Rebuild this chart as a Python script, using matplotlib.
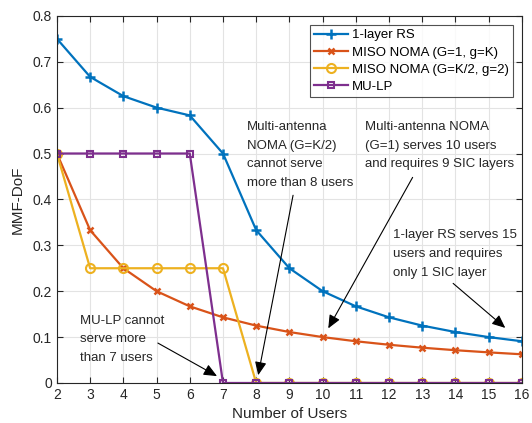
import matplotlib
matplotlib.use("Agg")
import matplotlib.pyplot as plt
import numpy as np

plt.rcParams['font.family'] = ['Liberation Sans', 'DejaVu Sans']

users = [2, 3, 4, 5, 6, 7, 8, 9, 10, 11, 12, 13, 14, 15, 16]
rs_1layer = [0.75, 0.667, 0.625, 0.6, 0.583, 0.5, 0.333, 0.25, 0.2, 0.167,
             0.143, 0.125, 0.111, 0.1, 0.0909]
noma_g1 = [0.5, 0.333, 0.25, 0.2, 0.167, 0.143, 0.125, 0.111, 0.1, 0.0909,
           0.0833, 0.0769, 0.0714, 0.0667, 0.0625]
noma_gk2 = [0.5, 0.25, 0.25, 0.25, 0.25, 0.25, 0, 0, 0, 0, 0, 0, 0, 0, 0]
mulp = [0.5, 0.5, 0.5, 0.5, 0.5, 0, 0, 0, 0, 0, 0, 0, 0, 0, 0]

labels = ['1-layer RS', 'MISO NOMA (G=1, g=K)', 'MISO NOMA (G=K/2, g=2)', 'MU-LP']
colors = ['#0072BD', '#D95319', '#EDB120', '#7E2F8E']

fig = plt.figure(figsize=(5.32, 4.23), dpi=100)
ax = fig.add_axes([0.107, 0.0946, 0.874, 0.868])

ax.plot(users, rs_1layer, color=colors[0], lw=1.6, marker='+', ms=7, mew=1.8, label=labels[0])
ax.plot(users, noma_g1, color=colors[1], lw=1.6, marker='x', ms=5, mew=1.8, label=labels[1])
ax.plot(users, noma_gk2, color=colors[2], lw=1.6, marker='o', ms=6.5, mew=1.5,
        mfc='none', label=labels[2])
ax.plot(users, mulp, color=colors[3], lw=1.6, marker='s', ms=5, mew=1.5,
        mfc='none', label=labels[3])

ax.set_xlim(2, 16)
ax.set_ylim(0, 0.8)
ax.set_xticks(np.arange(2, 17, 1))
ax.set_yticks(np.arange(0, 0.81, 0.1))
ax.set_yticklabels(['0', '0.1', '0.2', '0.3', '0.4', '0.5', '0.6', '0.7', '0.8'])
ax.grid(True, color='#e3e3e3', lw=0.8)
ax.set_axisbelow(True)
ax.tick_params(direction='in', length=4, labelsize=10, colors='#262626',
               top=True, right=True)
for s in ax.spines.values():
    s.set_color('#262626')
    s.set_linewidth(0.8)
ax.set_xlabel('Number of Users', fontsize=11, color='#262626', labelpad=4)
ax.set_ylabel('MMF-DoF', fontsize=11, color='#262626', labelpad=6)

leg = ax.legend(loc='upper right', fontsize=9.5, frameon=True, fancybox=False,
                edgecolor='#262626', borderaxespad=0.7, handlelength=2.6,
                labelspacing=0.38, borderpad=0.3, handletextpad=0.3)
leg.get_frame().set_linewidth(0.8)

ap = dict(arrowstyle='-|>,head_length=0.8,head_width=0.35', color='k', lw=0.8,
          shrinkA=0, shrinkB=0)
fs = 9.5
ls = 1.75
ax.text(7.73, 0.571, 'Multi-antenna\nNOMA (G=K/2)\ncannot serve\nmore than 8 users',
        fontsize=fs, va='top', ha='left', linespacing=ls, color='#262626')
ax.annotate('', xy=(8.06, 0.017), xytext=(9.11, 0.409), arrowprops=ap)

ax.text(11.28, 0.571, 'Multi-antenna NOMA\n(G=1) serves 10 users\nand requires 9 SIC layers',
        fontsize=fs, va='top', ha='left', linespacing=ls, color='#262626')
ax.annotate('', xy=(10.17, 0.119), xytext=(12.71, 0.448), arrowprops=ap)

ax.text(12.12, 0.335, '1-layer RS serves 15\nusers and requires\nonly 1 SIC layer',
        fontsize=fs, va='top', ha='left', linespacing=ls, color='#262626')
ax.annotate('', xy=(15.5, 0.12), xytext=(13.93, 0.217), arrowprops=ap)

ax.text(2.69, 0.149, 'MU-LP cannot\nserve more\nthan 7 users',
        fontsize=fs, va='top', ha='left', linespacing=ls, color='#262626')
ax.annotate('', xy=(6.82, 0.015), xytext=(5.04, 0.087), arrowprops=ap)

fig.savefig('out.png', dpi=100)
